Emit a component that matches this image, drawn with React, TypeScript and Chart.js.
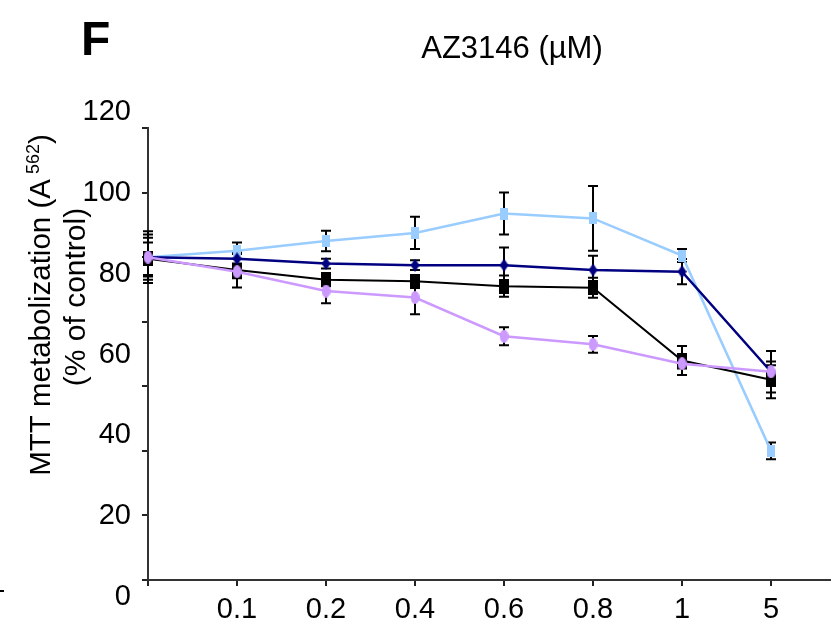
import React, { useEffect, useRef } from 'react';
import { Chart, registerables } from 'chart.js';

Chart.register(...registerables);

// ---- data ----
const concentrations = ['', '0.1', '0.2', '0.4', '0.6', '0.8', '1', '5'];

const lightBlueValues = [100, 102, 105, 107.5, 113.5, 112, 100.5, 40];
const lightBlueErrors = [7, 2.5, 3.2, 5, 6.5, 10, 2, 2.6];

const navyValues = [100, 99.5, 98, 97.5, 97.5, 96, 95.5, 64.5];
const navyErrors = [6, 1.5, 1.5, 1.5, 5.5, 4.4, 3.9, 6.4];

const blackValues = [99.5, 96, 93, 92.5, 91, 90.5, 68, 62];
const blackErrors = [5, 5.4, 2, 2, 3.3, 3.1, 4.5, 5.7];

const purpleValues = [100, 95.5, 89.5, 87.5, 75.5, 73, 67, 64.5];
const purpleErrors = [8, 2, 3.8, 5.2, 2.8, 2.6, 1.5, 2];

const yTickLabels = [0, 20, 40, 60, 80, 100, 120];

const FONT = '"Liberation Sans", Arial, Helvetica, sans-serif';

function makeMarker(w: number, h: number, color: string, shape: string) {
  const c = document.createElement('canvas');
  c.width = w;
  c.height = h;
  const ctx = c.getContext('2d')!;
  ctx.fillStyle = color;
  if (shape === 'rect') {
    ctx.fillRect(0, 0, w, h);
  } else if (shape === 'diamond') {
    ctx.beginPath();
    ctx.moveTo(w / 2, 0);
    ctx.lineTo(w, h / 2);
    ctx.lineTo(w / 2, h);
    ctx.lineTo(0, h / 2);
    ctx.closePath();
    ctx.fill();
  } else {
    ctx.beginPath();
    ctx.ellipse(w / 2, h / 2, w / 2, h / 2, 0, 0, Math.PI * 2);
    ctx.fill();
  }
  return c;
}

const toPoints = (vals: number[]) => vals.map((v, i) => ({ x: i, y: v }));

const errorBarPlugin = {
  id: 'errorBars',
  beforeDatasetsDraw(chart: any) {
    const { ctx } = chart;
    const xs = chart.scales.x;
    const ys = chart.scales.y;
    ctx.save();
    ctx.strokeStyle = '#000';
    ctx.lineWidth = 2;
    chart.data.datasets.forEach((ds: any) => {
      ds.data.forEach((p: any, i: number) => {
        const err = ds.errorValues[i];
        const px = xs.getPixelForValue(p.x);
        const top = ys.getPixelForValue(p.y + err);
        const bot = ys.getPixelForValue(p.y - err);
        ctx.beginPath();
        ctx.moveTo(px, top);
        ctx.lineTo(px, bot);
        ctx.moveTo(px - 5, top);
        ctx.lineTo(px + 5, top);
        ctx.moveTo(px - 5, bot);
        ctx.lineTo(px + 5, bot);
        ctx.stroke();
      });
    });
    ctx.restore();
  },
};

const textPlugin = {
  id: 'texts',
  afterDraw(chart: any) {
    const { ctx } = chart;
    const ys = chart.scales.y;
    ctx.save();
    ctx.fillStyle = '#000';

    // stray mark at the left edge of the original figure
    ctx.fillRect(0, 590, 4, 2);

    // panel letter
    ctx.font = `bold 48px ${FONT}`;
    ctx.textAlign = 'left';
    ctx.textBaseline = 'alphabetic';
    ctx.fillText('F', 81, 55);

    // title
    ctx.font = `31px ${FONT}`;
    ctx.textAlign = 'center';
    ctx.fillText('AZ3146 (\u00b5M)', 512, 58);

    // y tick labels (offset from tick marks as in the original figure)
    ctx.font = `29px ${FONT}`;
    ctx.textAlign = 'right';
    ctx.textBaseline = 'middle';
    yTickLabels.forEach((L) => {
      const py = ys.getPixelForValue(L * 1.2514 - 5.26);
      ctx.fillText(String(L), 131, py);
    });

    // y axis title
    ctx.textBaseline = 'alphabetic';
    ctx.textAlign = 'left';
    const main = 'MTT metabolization (A';
    const sup = ' 562';
    const close = ')';
    ctx.save();
    ctx.translate(50, 305);
    ctx.rotate(-Math.PI / 2);
    ctx.font = `29.5px ${FONT}`;
    const wMain = ctx.measureText(main).width;
    const wClose = ctx.measureText(close).width;
    ctx.font = `18px ${FONT}`;
    const wSup = ctx.measureText(sup).width;
    let x0 = -(wMain + wSup + wClose) / 2;
    ctx.font = `29.5px ${FONT}`;
    ctx.fillText(main, x0, 0);
    x0 += wMain;
    ctx.font = `18px ${FONT}`;
    ctx.fillText(sup, x0, -11);
    x0 += wSup;
    ctx.font = `29.5px ${FONT}`;
    ctx.fillText(close, x0, 0);
    ctx.restore();

    ctx.save();
    ctx.translate(85, 297);
    ctx.rotate(-Math.PI / 2);
    ctx.font = `30px ${FONT}`;
    ctx.textAlign = 'center';
    ctx.fillText('(% of control)', 0, 0);
    ctx.restore();

    ctx.restore();
  },
};

export default function App() {
  const ref = useRef<HTMLCanvasElement>(null);

  useEffect(() => {
    const lightBlueMarker = makeMarker(8, 12, '#99CCFF', 'rect');
    const navyMarker = makeMarker(9, 13, '#000080', 'diamond');
    const blackMarker = makeMarker(10, 15, '#000000', 'rect');
    const purpleMarker = makeMarker(9, 13, '#CC99FF', 'ellipse');

    const chart = new Chart(ref.current!, {
      type: 'line',
      data: {
        datasets: [
          {
            label: 'purple',
            data: toPoints(purpleValues),
            errorValues: purpleErrors,
            borderColor: '#CC99FF',
            borderWidth: 2.5,
            pointStyle: purpleMarker,
            pointRadius: 6,
            clip: false,
          } as any,
          {
            label: 'navy',
            data: toPoints(navyValues),
            errorValues: navyErrors,
            borderColor: '#000080',
            borderWidth: 2.5,
            pointStyle: navyMarker,
            pointRadius: 6,
            clip: false,
          } as any,
          {
            label: 'black',
            data: toPoints(blackValues),
            errorValues: blackErrors,
            borderColor: '#000000',
            borderWidth: 2,
            pointStyle: blackMarker,
            pointRadius: 6,
            clip: false,
          } as any,
          {
            label: 'lightblue',
            data: toPoints(lightBlueValues),
            errorValues: lightBlueErrors,
            borderColor: '#99CCFF',
            borderWidth: 2.5,
            pointStyle: lightBlueMarker,
            pointRadius: 6,
            clip: false,
          } as any,
        ],
      },
      options: {
        animation: false,
        responsive: false,
        devicePixelRatio: 1,
        layout: { autoPadding: false, padding: { left: 0, top: 128, right: 0, bottom: 0 } },
        plugins: {
          legend: { display: false },
          tooltip: { enabled: false },
          title: { display: false },
        },
        scales: {
          x: {
            type: 'linear',
            min: 0,
            max: 7.674,
            afterBuildTicks: (scale: any) => {
              scale.ticks = concentrations.map((_, i) => ({ value: i }));
            },
            afterFit: (scale: any) => {
              scale.height = 59;
              scale.paddingLeft = 0;
              scale.paddingRight = 0;
            },
            grid: {
              display: true,
              drawOnChartArea: false,
              drawTicks: true,
              tickLength: 6,
              color: '#222',
              lineWidth: 2,
            },
            border: { display: true, color: '#333', width: 2 },
            ticks: {
              autoSkip: false,
              maxRotation: 0,
              padding: 7,
              color: '#000',
              font: { family: FONT, size: 29 },
              callback: (value: any) => concentrations[value as number] ?? '',
            },
          },
          y: {
            type: 'linear',
            min: 0,
            max: 140,
            afterFit: (scale: any) => {
              scale.width = 148;
              scale.paddingTop = 0;
              scale.paddingBottom = 0;
            },
            grid: {
              display: true,
              drawOnChartArea: false,
              drawTicks: true,
              tickLength: 6,
              color: '#222',
              lineWidth: 2,
            },
            border: { display: true, color: '#333', width: 2 },
            ticks: { stepSize: 20, display: false },
          },
        },
      },
      plugins: [errorBarPlugin, textPlugin],
    } as any);

    return () => chart.destroy();
  }, []);

  return (
    <div style={{ position: 'fixed', left: 0, top: 0, width: 831, height: 639, background: '#fff' }}>
      <canvas ref={ref} width={831} height={639} style={{ display: 'block', width: 831, height: 639 }} />
    </div>
  );
}
